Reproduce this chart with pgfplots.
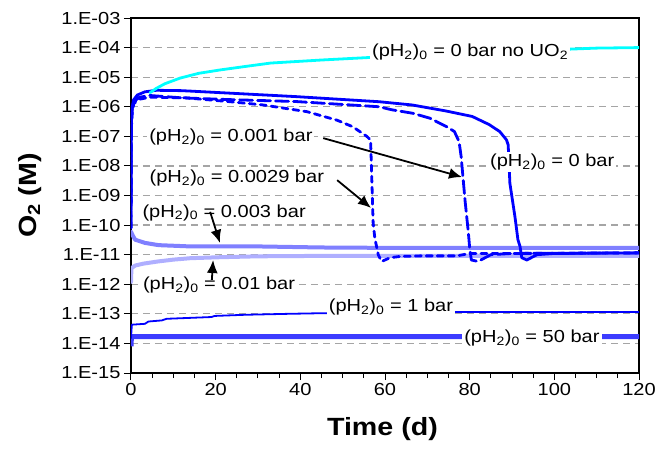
\documentclass[border=0pt]{standalone}
\usepackage{fontspec}
\setmainfont{Liberation Sans}[FakeStretch=1.15]
\usepackage{pgfplots}
\pgfplotsset{compat=1.18}
\usetikzlibrary{arrows.meta}
\definecolor{cyanl}{RGB}{0,255,255}
\definecolor{bl}{RGB}{0,0,255}
\definecolor{pthree}{RGB}{128,128,255}
\definecolor{pone}{RGB}{175,175,255}
\definecolor{pfifty}{RGB}{60,60,255}
\definecolor{gridc}{RGB}{165,165,165}
\newcommand{\ph}{(pH\textsubscript{2})\textsubscript{0}}
\begin{document}
\begin{tikzpicture}
\begin{axis}[
  name=ax, scale only axis, width=508bp, height=355bp,
  xmin=0, xmax=120, ymin=1e-15, ymax=1e-3, ymode=log,
  xtick={0,20,40,60,80,100,120}, xticklabels={0,20,40,60,80,100,120},
  minor x tick num=3,
  ytick={1e-15,1e-14,1e-13,1e-12,1e-11,1e-10,1e-9,1e-8,1e-7,1e-6,1e-5,1e-4,1e-3},
  yticklabels={1.E-15,1.E-14,1.E-13,1.E-12,1.E-11,1.E-10,1.E-09,1.E-08,1.E-07,1.E-06,1.E-05,1.E-04,1.E-03},
  yminorticks=false,
  tick align=outside, xtick pos=left, ytick pos=left,
  major tick length=7bp, minor tick length=5bp,
  every tick/.style={black, line width=1bp},
  axis line style={black, line width=2.2bp},
  ymajorgrids, major grid style={gridc, line width=1.2bp, dash pattern=on 7bp off 5bp},
  tick label style={font=\fontsize{17.5}{20}\selectfont},
  xlabel={\textbf{Time (d)}}, ylabel={\textbf{O\textsubscript{2} (M)}},
  label style={font=\fontsize{25}{28}\selectfont},
  xlabel style={at={(axis description cs:0.495,-0.158)}, anchor=center},
  ylabel style={at={(axis description cs:-0.199,0.5)}, anchor=center},
  every axis plot/.append style={line join=round, line cap=round},
]
% 50 bar
\addplot[pfifty, line width=5bp, line cap=butt] coordinates {(0,8e-15) (0.1,1.7e-14) (120,1.7e-14)};
% 1 bar
\addplot[bl, line width=1.8bp] coordinates {(0,1.5e-14) (0.2,4.3e-14) (3.3,4.6e-14) (4.1,5.5e-14) (7.3,6.0e-14) (8.4,6.8e-14) (19,7.8e-14) (19.8,8.5e-14) (27,9.3e-14) (37,1.0e-13) (45,1.05e-13) (76,1.15e-13) (120,1.15e-13)};
% 0.01 bar
\addplot[pone, line width=4bp] coordinates {(0,1.2e-12) (0.1,3.5e-12) (1,4.3e-12) (3,5e-12) (6.4,5.9e-12) (10,6.8e-12) (14,7.6e-12) (21,8.2e-12) (30,8.8e-12) (45,9.1e-12) (120,9.1e-12)};
% 0.003 bar
\addplot[pthree, line width=4bp] coordinates {(0,6e-11) (0.5,4.2e-11) (1,3.2e-11) (3.3,2.5e-11) (6.5,2.1e-11) (14,1.9e-11) (30,1.9e-11) (45,1.75e-11) (60,1.7e-11) (120,1.7e-11)};
% 0.0029 bar
\addplot[bl, line width=2.8bp, dash pattern=on 6bp off 5bp] coordinates {(0,8e-11) (0.1,2e-7) (0.3,7e-7) (0.7,1.3e-6) (2,1.8e-6) (4.5,2.1e-6) (13,2.0e-6) (23.4,1.48e-6) (31.2,1.15e-6) (41.6,6.8e-7) (48.7,3.5e-7) (52.4,2.1e-7) (55.7,1.0e-7) (56.6,7.5e-8) (56.9,3e-9) (57.2,1.2e-10) (57.6,3.6e-11) (58.4,1.0e-11) (59.2,5.9e-12) (61.2,7.9e-12) (63.5,8.7e-12) (68.3,9.1e-12) (77,9.1e-12) (80,1.1e-11) (90,1.1e-11) (120,1.15e-11)};
% 0.001 bar
\addplot[bl, line width=2.8bp, dash pattern=on 13bp off 5bp] coordinates {(0,8e-11) (0.1,3e-7) (0.3,9e-7) (0.7,1.5e-6) (2,2.1e-6) (4.5,2.4e-6) (12,2.0e-6) (23,1.75e-6) (39,1.5e-6) (58.6,1.0e-6) (61.6,7.9e-7) (66.6,6.0e-7) (70.6,4.1e-7) (74.6,2.1e-7) (76.4,1.45e-7) (77.5,6.6e-8) (78.0,2e-8) (78.9,7e-10) (79.7,5.4e-11) (80.0,1.7e-11) (80.4,6.6e-12) (82,5.9e-12) (85,1.0e-11) (90,1.1e-11) (120,1.15e-11)};
% 0 bar
\addplot[bl, line width=2.8bp] coordinates {(0,8e-11) (0.1,3e-7) (0.3,1.0e-6) (0.6,1.7e-6) (1.5,2.5e-6) (3.3,3.2e-6) (6,3.6e-6) (12,3.5e-6) (23,2.9e-6) (39,2.2e-6) (58.6,1.48e-6) (66.4,1.15e-6) (74.4,7.2e-7) (80.6,4.7e-7) (84.6,2.5e-7) (87.1,1.45e-7) (88.7,7.6e-8) (89.1,5.1e-8) (89.5,2.6e-9) (90.7,1.9e-10) (91.4,3.2e-11) (91.9,1.9e-11) (92.3,7.9e-12) (93.5,6.6e-12) (95.9,1.0e-11) (100,1.1e-11) (120,1.15e-11)};
% 0 bar no UO2
\addplot[cyanl, line width=2.8bp] coordinates {(4.5,3.0e-6) (6,4.2e-6) (8,6.0e-6) (11.6,9.3e-6) (16,1.35e-5) (21,1.75e-5) (27,2.3e-5) (33,3.0e-5) (45,3.8e-5) (56,4.6e-5) (70,5.5e-5) (85,6.8e-5) (104,8.9e-5) (110,9.6e-5) (120,1.0e-4)};
% labels
\begin{scope}[every node/.style={fill=white, inner sep=2pt, font=\fontsize{17.5}{20}\selectfont}]
\node at (axis cs:80.1,7.1e-5) {\ph\ = 0 bar no UO\textsubscript{2}};
\node at (axis cs:23.6,9.5e-8) {\ph\ = 0.001 bar};
\node at (axis cs:25.0,3.9e-9) {\ph\ = 0.0029 bar};
\node at (axis cs:22.0,2.6e-10) {\ph\ = 0.003 bar};
\node at (axis cs:20.8,9.3e-13) {\ph\ = 0.01 bar};
\node at (axis cs:61.4,1.7e-13) {\ph\ = 1 bar};
\node at (axis cs:94.7,1.5e-14) {\ph\ = 50 bar};
\node at (axis cs:99.5,1.35e-8) {\ph\ = 0 bar};
\end{scope}
% arrows
\begin{scope}[black, line width=1.8bp, -{Latex[length=13bp,width=11bp]}]
\draw (axis cs:45.4,8.7e-8) -- (axis cs:78.2,4.2e-9);
\draw (axis cs:48.7,3.3e-9) -- (axis cs:56.7,3.8e-10);
\draw (axis cs:18.7,2.8e-10) -- (axis cs:21.0,2.5e-11);
\draw (axis cs:19.1,1.4e-12) -- (axis cs:19.4,6.6e-12);
\end{scope}
\end{axis}
\pgfresetboundingbox
\path[use as bounding box] (ax.south west) ++(-131bp,-79bp) rectangle ++(657bp,452bp);
\end{tikzpicture}
\end{document}
